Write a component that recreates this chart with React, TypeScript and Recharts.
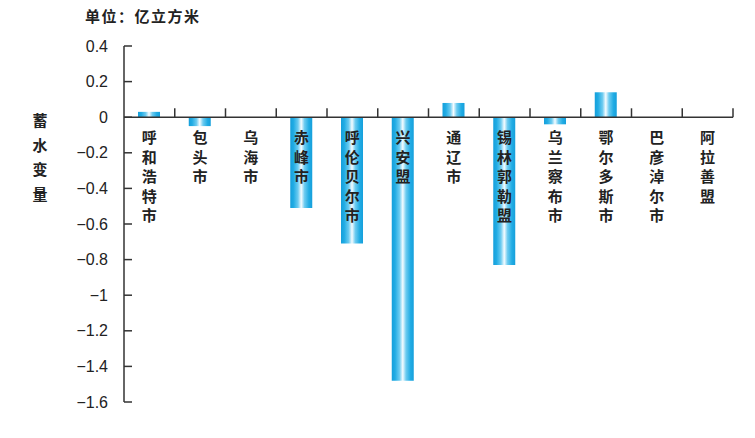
import { BarChart, Bar, XAxis, YAxis, ReferenceLine, ReferenceDot } from 'recharts';

// ─────────────────────────────────────────────────────────────────────────────
// Data
// ─────────────────────────────────────────────────────────────────────────────

const CITIES = [
  '呼和浩特市', '包头市', '乌海市', '赤峰市', '呼伦贝尔市', '兴安盟',
  '通辽市', '锡林郭勒盟', '乌兰察布市', '鄂尔多斯市', '巴彦淖尔市', '阿拉善盟',
];

const STORAGE_CHANGE = [0.03, -0.05, 0, -0.51, -0.71, -1.48, 0.08, -0.83, -0.04, 0.14, 0, 0];

const Y_TICKS = [0.4, 0.2, 0, -0.2, -0.4, -0.6, -0.8, -1, -1.2, -1.4, -1.6];

// category boundaries on a 0..12 helper axis, for the small ticks above the zero line
const CATEGORY_EDGES = [1, 2, 3, 4, 5, 6, 7, 8, 9, 10, 11, 12];

const TITLE = '单位：亿立方米';
const Y_LABEL = '蓄水变量';

const chartData = CITIES.map((name, i) => ({ name, value: STORAGE_CHANGE[i], idx: i + 0.5 }));

const INK = '#222';
const AXIS = '#333';
const CJK = '"Noto Sans CJK SC", "Noto Sans", sans-serif';
const LATIN = '"Liberation Sans", Arial, sans-serif';

function fmtTick(v: number) {
  if (v === 0) return '0';
  const s = String(Number(Math.abs(v).toFixed(1)));
  return v < 0 ? `\u2212${s}` : s;
}

function YTick(props: any) {
  const { x, y, payload } = props;
  return (
    <g>
      <line x1={x + 16} x2={x + 24} y1={y} y2={y} stroke={AXIS} strokeWidth={1.5} />
      <text x={x} y={y} dy={5.5} textAnchor="end" fill={INK} fontSize={16} fontFamily={LATIN}>
        {fmtTick(payload.value)}
      </text>
    </g>
  );
}

// vertical (one character per line) city name hanging under the zero line
function CityLabel({ cx, cy, name }: { cx: number; cy: number; name: string }) {
  const chars = Array.from(name);
  return (
    <text x={cx} y={cy + 26} textAnchor="middle" fill={INK} fontSize={15}
      fontWeight={600} fontFamily={CJK}>
      {chars.map((c, i) => (
        <tspan key={i} x={cx} dy={i === 0 ? 0 : 19.5}>{c}</tspan>
      ))}
    </text>
  );
}

export default function App() {
  return (
    <div style={{ position: 'absolute', left: 0, top: 0, width: 755, height: 438, background: '#fff' }}>
      <div style={{
        position: 'absolute', left: 85, top: 5, fontFamily: CJK, fontSize: 15,
        fontWeight: 600, color: INK, letterSpacing: 1.5, whiteSpace: 'nowrap',
      }}>
        {TITLE}
      </div>
      <div style={{
        position: 'absolute', left: 32, top: 108, width: 16, fontFamily: CJK, fontSize: 15,
        fontWeight: 700, color: INK, lineHeight: '24.5px', textAlign: 'center',
      }}>
        {Array.from(Y_LABEL).map((c, i) => <div key={i}>{c}</div>)}
      </div>
      <BarChart
        width={755}
        height={438}
        data={chartData}
        margin={{ top: 46, right: 22, bottom: 36, left: 0 }}
        barSize={22}
      >
        <defs>
          <linearGradient id="barFill" x1="0" y1="0" x2="1" y2="0">
            <stop offset="0%" stopColor="#159fdb" />
            <stop offset="15%" stopColor="#21ace4" />
            <stop offset="35%" stopColor="#6ccbf0" />
            <stop offset="50%" stopColor="#f5fcff" />
            <stop offset="65%" stopColor="#6ccbf0" />
            <stop offset="85%" stopColor="#21ace4" />
            <stop offset="100%" stopColor="#159fdb" />
          </linearGradient>
        </defs>
        <XAxis dataKey="name" hide />
        <XAxis xAxisId="grid" type="number" dataKey="idx" domain={[0, 12]} hide />
        <YAxis
          width={124}
          domain={[-1.6, 0.4]}
          ticks={Y_TICKS}
          interval={0}
          tickSize={0}
          tickMargin={16}
          tickLine={false}
          axisLine={{ stroke: AXIS, strokeWidth: 1.5 }}
          tick={<YTick />}
        />
        <Bar dataKey="value" fill="url(#barFill)" isAnimationActive={false} />
        <ReferenceLine y={0} stroke={AXIS} strokeWidth={1.5} />
        {CATEGORY_EDGES.map(e => (
          <ReferenceLine
            key={e}
            xAxisId="grid"
            segment={[{ x: e, y: 0 }, { x: e, y: 0.05 }]}
            stroke={AXIS}
            strokeWidth={1.5}
          />
        ))}
        {chartData.map(d => (
          <ReferenceDot
            key={d.name}
            xAxisId="grid"
            x={d.idx}
            y={0}
            r={1}
            shape={(p: any) => <CityLabel cx={p.cx} cy={p.cy} name={d.name} />}
          />
        ))}
      </BarChart>
    </div>
  );
}
